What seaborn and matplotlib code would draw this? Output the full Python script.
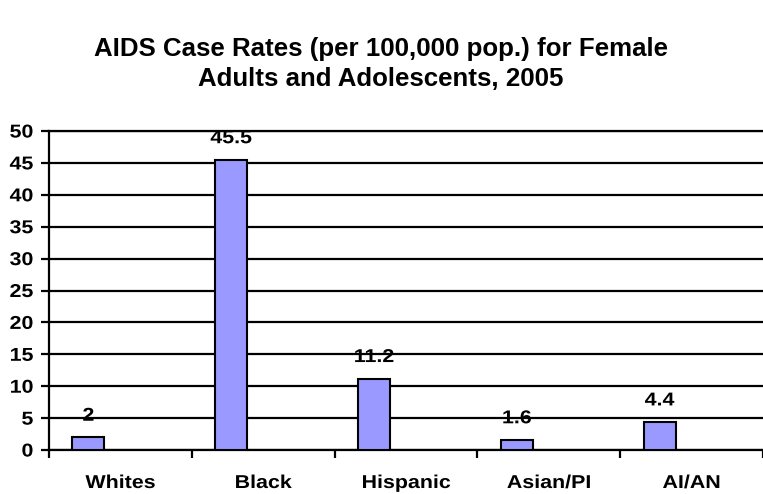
import matplotlib
matplotlib.use("Agg")
import matplotlib.pyplot as plt
import matplotlib.patheffects as pe
from matplotlib.transforms import Affine2D
from matplotlib.ticker import FixedLocator
import seaborn as sns
import pandas as pd

# ---- data ----
groups = ["Whites", "Black", "Hispanic", "Asian/PI", "AI/AN"]
rates = [2, 45.5, 11.2, 1.6, 4.4]
series = ["2005", "spare A", "spare B"]          # clustered layout: one filled series of three
y_ticks = [0, 5, 10, 15, 20, 25, 30, 35, 40, 45, 50]
title = "AIDS Case Rates (per 100,000 pop.) for Female\nAdults and Adolescents, 2005"

BAR_COLOR = "#9999FF"


class HStretch(pe.AbstractPathEffect):
    """Widen glyphs horizontally around the text's centre or right edge."""

    def __init__(self, sx, anchor="center"):
        super().__init__()
        self.sx = sx
        self.anchor = anchor

    def draw_path(self, renderer, gc, tpath, affine, rgbFace=None):
        ext = tpath.get_extents()
        ax0 = (ext.x0 + ext.x1) / 2 if self.anchor == "center" else ext.x1
        t = Affine2D().translate(-ax0, 0).scale(self.sx, 1).translate(ax0, 0)
        renderer.draw_path(gc, tpath, t + affine, rgbFace)


sns.set_style("white")
plt.rcParams["font.family"] = ["Liberation Sans", "DejaVu Sans"]
plt.rcParams["font.weight"] = "bold"
plt.rcParams["text.color"] = "black"
plt.rcParams["xtick.color"] = "black"
plt.rcParams["ytick.color"] = "black"
plt.rcParams["xtick.labelcolor"] = "black"
plt.rcParams["ytick.labelcolor"] = "black"

df = pd.DataFrame({"group": groups, "rate": rates, "series": series[0]})

fig = plt.figure(figsize=(7.63, 4.94), dpi=100)
ax = fig.add_axes([49 / 763, 1 - 450 / 494, 1 - 49 / 763, (450 - 131) / 494])

sns.barplot(
    data=df, x="group", y="rate", hue="series", hue_order=series,
    order=groups, palette={s: BAR_COLOR for s in series},
    width=0.672, dodge=True, saturation=1, edgecolor="black",
    linewidth=1.5, legend=False, ax=ax, zorder=3,
)

ax.set_ylim(0, 50)
ax.set_xlim(-0.5, len(groups) - 0.5)
ax.set_yticks(y_ticks)
ax.yaxis.grid(True, color="black", linewidth=1.6)
ax.set_axisbelow(True)
ax.set_xlabel("")
ax.set_ylabel("")

ax.spines["right"].set_visible(False)
for side in ["left", "bottom", "top"]:
    ax.spines[side].set_visible(True)
    ax.spines[side].set_color("black")
    ax.spines[side].set_linewidth(1.6)

# category boundaries get the tick marks, labels sit at centres
ax.xaxis.set_minor_locator(FixedLocator([i - 0.5 for i in range(len(groups) + 1)]))
ax.tick_params(axis="x", which="major", length=0, pad=18, labelsize=13.4,
               labelcolor="black")
ax.tick_params(axis="x", which="minor", length=5.8, width=1.6, color="black",
               direction="out", bottom=True)
ax.tick_params(axis="y", which="major", length=5.8, width=1.6, color="black",
               direction="out", left=True, pad=5.5, labelsize=13.4,
               labelcolor="black")

stretch_c = [HStretch(1.15, "center")]
stretch_r = [HStretch(1.15, "right")]
for lab in ax.get_xticklabels():
    lab.set_fontweight("bold")
    lab.set_path_effects(stretch_c)
for lab in ax.get_yticklabels():
    lab.set_fontweight("bold")
    lab.set_path_effects(stretch_r)

labels = ax.bar_label(ax.containers[0], fmt="{:g}", padding=9,
                      fontsize=13.4, fontweight="bold", color="black")
for t in labels:
    t.set_path_effects(stretch_c)

fig.text(0.4987, 1 - 37 / 494, title, ha="center", va="top", color="black",
         fontsize=18.6, fontweight="bold", linespacing=1.33)

fig.savefig("out.png", dpi=100)
